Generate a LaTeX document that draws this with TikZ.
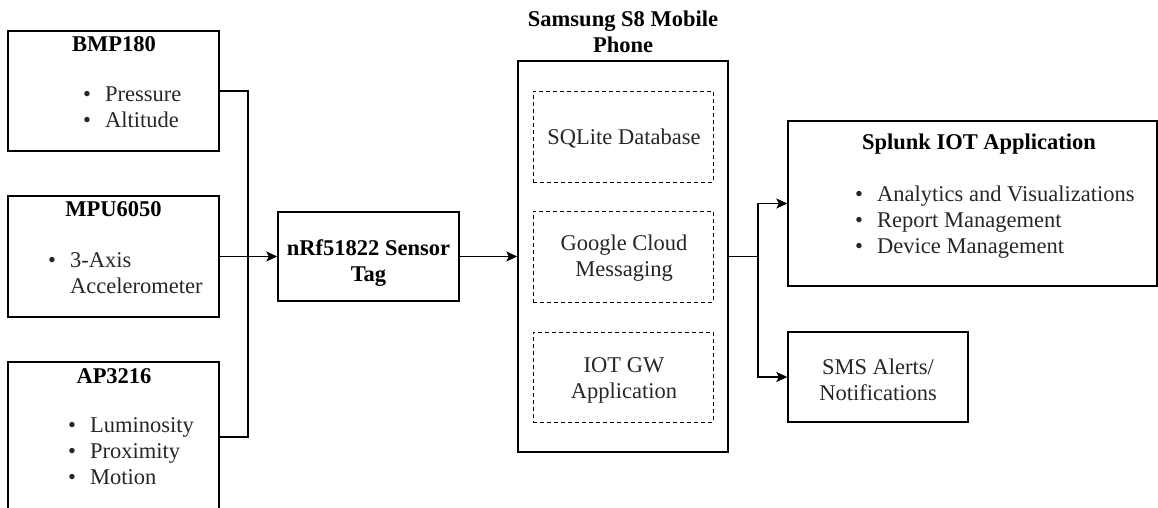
\documentclass[tikz,border=0pt]{standalone}
\usepackage{fontspec}
\setmainfont{Liberation Serif}
\usetikzlibrary{arrows.meta}
\newcommand{\dfont}{\fontsize{22.5}{26}\selectfont}
\newcommand{\rows}[2][c]{\begin{tabular}[t]{@{}#1@{}}#2\end{tabular}}
\newcommand{\bit}{\makebox[22pt][l]{\textbullet}}
\tikzset{
  block/.style={draw,line width=1.4pt,inner sep=0pt},
  dashblock/.style={draw,line width=0.9pt,dash pattern=on 4pt off 3pt,inner sep=0pt},
  head/.style={font=\dfont\bfseries,anchor=base,inner sep=0pt},
  body/.style={font=\dfont,text=black!85,anchor=base west,inner sep=0pt},
  wire/.style={line width=1.4pt},
  link/.style={line width=1.4pt,-{Stealth[length=11pt,width=10pt,inset=2.5pt]}}
}

\begin{document}
\begin{tikzpicture}[x=1pt,y=-1pt]
  \useasboundingbox (0,0) rectangle (1158,508);
  % sensor boards
  \node[block,minimum width=211pt,minimum height=120pt] (bmp) at (113.5,91) {};
  \node[head] (bmptitle) at (114,52) {BMP180};
  \node[body] (bmplist) at (83,102) {\rows[l]{\bit Pressure\\ \bit Altitude}};
  \node[block,minimum width=211pt,minimum height=121pt] (mpu) at (113.5,256.5) {};
  \node[head] (mputitle) at (113.5,216) {MPU6050};
  \node[body] (mpulist) at (48,267) {\rows[l]{\bit 3-Axis\\ \hspace{22pt}Accelerometer}};
  \node[block,minimum width=211pt,minimum height=150pt] (ap) at (113.5,437) {};
  \node[head] (aptitle) at (114,383) {AP3216};
  \node[body] (aplist) at (68,432) {\rows[l]{\bit Luminosity\\ \bit Proximity\\ \bit Motion}};
  % tag and phone
  \node[block,minimum width=181pt,minimum height=89pt] (nrf) at (368.5,256.5) {};
  \node[head] (nrftext) at (368.5,255) {\rows{nRf51822 Sensor\\ Tag}};
  \node[block,minimum width=210pt,minimum height=391pt] (phone) at (623,256.5) {};
  \node[head] (phonetitle) at (623,27) {\rows{Samsung S8 Mobile\\ Phone}};
  \node[dashblock,minimum width=180pt,minimum height=91pt] (sqlite) at (623,136.5) {};
  \node[body,anchor=base] (sqlitetext) at (624,144) {SQLite Database};
  \node[dashblock,minimum width=180pt,minimum height=91pt] (gcm) at (623,256.5) {};
  \node[body,anchor=base] (gcmtext) at (624,250) {\rows{Google Cloud\\ Messaging}};
  \node[dashblock,minimum width=180pt,minimum height=90pt] (gw) at (623,377) {};
  \node[body,anchor=base] (gwtext) at (624,372) {\rows{IOT GW\\ Application}};
  % outputs
  \node[block,minimum width=369pt,minimum height=165pt] (splunk) at (972.5,203.5) {};
  \node[head] (splunktitle) at (979,149) {Splunk IOT Application};
  \node[body] (splunklist) at (855,201) {\rows[l]{\bit Analytics and Visualizations\\ \bit Report Management\\ \bit Device Management}};
  \node[block,minimum width=180pt,minimum height=90pt] (sms) at (878,377) {};
  \node[body,anchor=base] (smstext) at (878,374) {\rows{SMS Alerts/\\ Notifications}};
  % connectors
  \coordinate (join) at (248,256.5);
  \coordinate (split) at (758,256.5);
  \draw[wire] (bmp.east) -| (join);
  \draw[wire] (ap.east) -| (join);
  \draw[link] (mpu.east) -- (nrf.west);
  \draw[link] (nrf.east) -- (phone.west);
  \draw[wire] (phone.east) -- (split);
  \draw[link] (split) |- (splunk.west);
  \draw[link] (split) |- (sms.west);
\end{tikzpicture}
\end{document}
